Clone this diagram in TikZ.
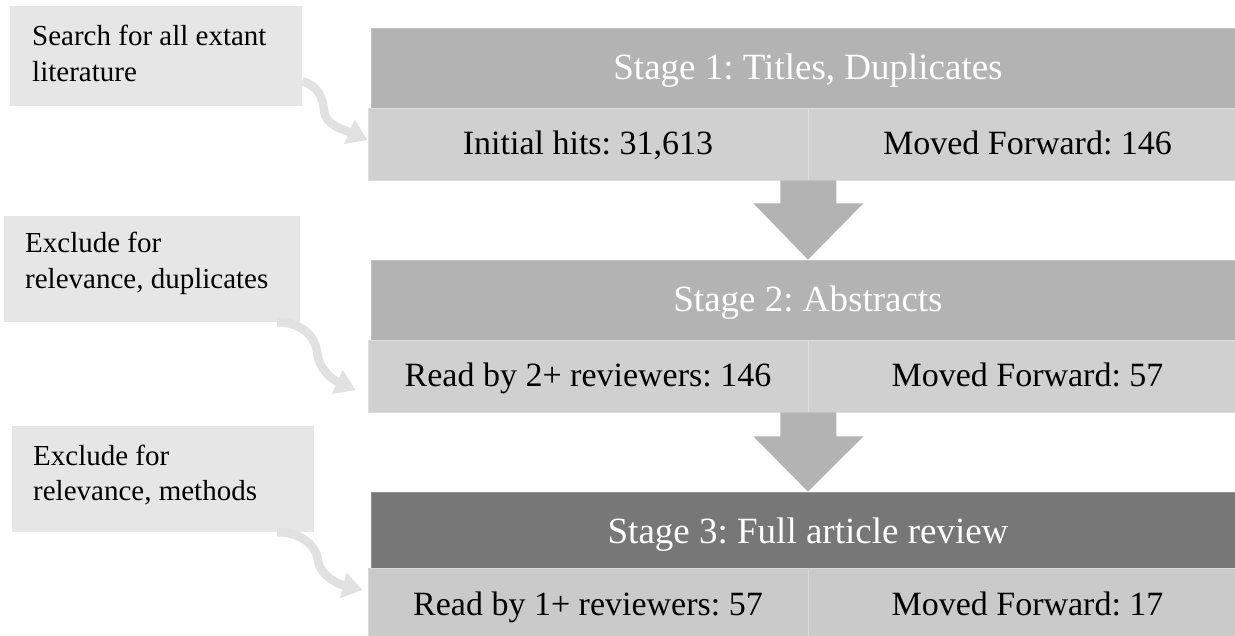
\documentclass[tikz,border=0pt]{standalone}
\usepackage{fontspec}
\setmainfont{Liberation Serif}
\usetikzlibrary{arrows.meta,calc}
\frenchspacing
\definecolor{hdrA}{HTML}{B3B3B3}
\definecolor{hdrC}{HTML}{777777}
\definecolor{rowA}{HTML}{D0D0D0}
\definecolor{rowC}{HTML}{CACACA}
\definecolor{callfill}{HTML}{E6E6E6}
\definecolor{curvecol}{HTML}{E1E1E1}
\begin{document}
\begin{tikzpicture}[x=1pt,y=-1pt,
  hdrbox/.style={rectangle, inner sep=0pt, minimum width=874pt, draw=#1!80!white, line width=0.8pt, fill=#1},
  rowbox/.style={rectangle, inner sep=0pt, minimum width=439pt, minimum height=72pt, draw=#1!70!white, line width=0.8pt, fill=#1},
  hdrtext/.style={text=white, font=\fontsize{37}{44}\selectfont\frenchspacing, anchor=base, inner sep=0pt},
  rowtext/.style={text=black, font=\fontsize{34}{40}\selectfont\frenchspacing, anchor=base, inner sep=0pt},
  callbox/.style={rectangle, inner sep=0pt, fill=callfill},
  calltext/.style={anchor=base west, inner sep=0pt, font=\fontsize{29}{35.5}\selectfont\frenchspacing},
  curv/.style={draw=curvecol, line width=8.5pt, -{Triangle[width=25pt,length=20pt]}},
  barrow/.style={fill=hdrA}
]
\clip (0,0) rectangle (1235,636);
\fill[white] (0,0) rectangle (1235,636);

% callout boxes
\node[callbox, minimum width=292pt, minimum height=100pt] (c1) at (156,56) {};
\node[callbox, minimum width=296pt, minimum height=106pt] (c2) at (152,269) {};
\node[callbox, minimum width=302pt, minimum height=106pt] (c3) at (163,479) {};
\node[calltext] (t1) at (32,46) {\parbox[t]{280pt}{\raggedright Search for all extant\\literature}};
\node[calltext] (t2) at (25,253) {\parbox[t]{280pt}{\raggedright Exclude for\\relevance, duplicates}};
\node[calltext] (t3) at (33,465) {\parbox[t]{280pt}{\raggedright Exclude for\\relevance, methods}};

% stage headers
\node[hdrbox=hdrA, minimum height=80pt] (h1) at (808,68) {};
\node[hdrbox=hdrA, minimum height=80pt] (h2) at (808,300) {};
\node[hdrbox=hdrC, minimum height=76pt] (h3) at (808,530) {};
\node[hdrtext] (h1t) at (808,80) {Stage 1: Titles, Duplicates};
\node[hdrtext] (h2t) at (808,312) {Stage 2: Abstracts};
\node[hdrtext] (h3t) at (808,543) {Stage 3: Full article review};

% rows
\node[rowbox=rowA, minimum width=440pt] (r1a) at (588,144) {};
\node[rowbox=rowA] (r1b) at (1027.5,144) {};
\node[rowbox=rowA, minimum width=440pt] (r2a) at (588,376) {};
\node[rowbox=rowA] (r2b) at (1027.5,376) {};
\node[rowbox=rowC, minimum width=440pt] (r3a) at (588,604) {};
\node[rowbox=rowC] (r3b) at (1027.5,604) {};
\node[rowtext] (r1at) at (588,155) {Initial hits: 31,613};
\node[rowtext] (r1bt) at (1027.5,155) {Moved Forward: 146};
\node[rowtext] (r2at) at (588,387) {Read by 2+ reviewers: 146};
\node[rowtext] (r2bt) at (1027.5,387) {Moved Forward: 57};
\node[rowtext] (r3at) at (588,615) {Read by 1+ reviewers: 57};
\node[rowtext] (r3bt) at (1027.5,615) {Moved Forward: 17};

% block arrows
\fill[barrow] ([xshift=-28pt]r1a.south east) -- ([xshift=28pt]r1a.south east)
  -- ([xshift=28pt,yshift=-23pt]r1a.south east) -- ([xshift=55pt,yshift=-23pt]r1a.south east)
  -- (h2.north) -- ([xshift=-55pt,yshift=-23pt]r1a.south east)
  -- ([xshift=-28pt,yshift=-23pt]r1a.south east) -- cycle;
\fill[barrow] ([xshift=-28pt]r2a.south east) -- ([xshift=28pt]r2a.south east)
  -- ([xshift=28pt,yshift=-24pt]r2a.south east) -- ([xshift=55pt,yshift=-24pt]r2a.south east)
  -- (h3.north) -- ([xshift=-55pt,yshift=-24pt]r2a.south east)
  -- ([xshift=-28pt,yshift=-24pt]r2a.south east) -- cycle;

% curved callout arrows
\draw[curv] ([yshift=25pt]c1.south east) .. controls (318,86) and (323,98) .. (324,110)
  .. controls (325,126) and (345,130) .. ([yshift=4pt]r1a.west);
\draw[curv] ([xshift=-23pt]c2.south east) .. controls (300,322) and (315,335) .. (317,352)
  .. controls (319,370) and (333,380) .. ([xshift=-12pt,yshift=-14pt]r2a.west);
\draw[curv] ([xshift=-37pt]c3.south east) .. controls (300,532) and (316,545) .. (318,560)
  .. controls (320,576) and (338,584) .. ([xshift=-5pt,yshift=14pt]r3a.west);
\end{tikzpicture}
\end{document}
